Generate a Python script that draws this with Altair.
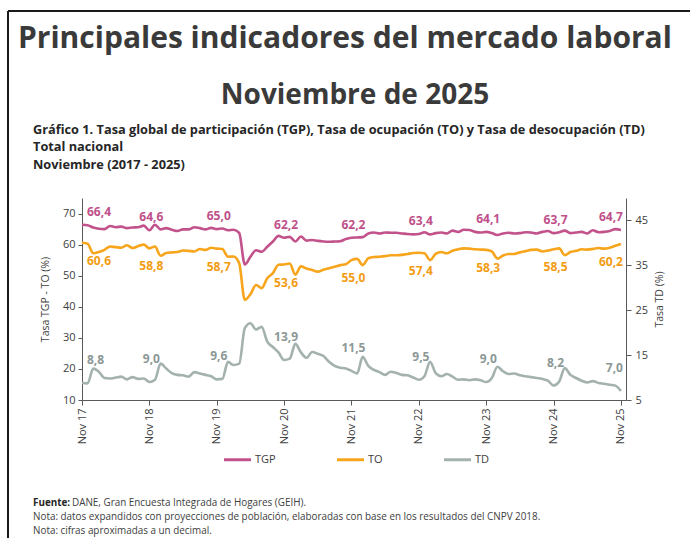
import altair as alt
import pandas as pd

# ---------------- data ----------------
tick_labels = ["Nov 17", "Nov 18", "Nov 19", "Nov 20", "Nov 21",
               "Nov 22", "Nov 23", "Nov 24", "Nov 25"]

tgp = [66.4, 66.2, 65.5, 65.1, 65.0, 66.0, 65.6, 65.8, 65.3, 65.5, 65.6, 66.1,
       64.6, 66.4, 64.9, 65.3, 64.8, 64.4, 64.9, 64.9, 65.6, 65.3, 64.9, 65.4,
       65.0, 65.2, 64.6, 64.8, 63.8, 53.6, 56.1, 58.2, 57.7, 59.3, 61.0, 62.8,
       62.2, 62.5, 61.0, 62.6, 61.3, 61.5, 61.2, 61.0, 60.9, 61.0, 61.1, 61.8,
       62.2, 62.3, 62.4, 63.6, 63.9, 63.6, 63.9, 63.8, 63.8, 63.6, 63.4, 63.3,
       63.4, 64.0, 63.3, 63.7, 63.9, 63.6, 64.5, 64.1, 64.8, 64.7, 64.1, 63.9,
       64.1, 63.7, 63.1, 63.6, 63.8, 63.6, 63.7, 64.0, 63.9, 63.6, 64.1, 64.4,
       63.7, 64.0, 64.5, 63.7, 63.9, 64.1, 63.6, 64.6, 64.0, 64.1, 64.4, 65.0,
       64.7]

to = [60.6, 60.3, 57.2, 57.6, 58.3, 59.4, 59.2, 59.0, 59.8, 58.9, 59.5, 60.0,
      58.8, 59.4, 56.4, 57.3, 57.5, 57.6, 58.1, 58.0, 57.8, 58.6, 58.3, 59.0,
      58.7, 58.6, 56.1, 56.2, 54.0, 42.2, 44.0, 47.0, 46.0, 49.2, 50.8, 53.5,
      53.6, 53.9, 50.3, 53.0, 52.3, 51.8, 51.3, 51.9, 52.4, 52.9, 53.4, 53.7,
      55.0, 55.4, 53.4, 55.6, 56.0, 56.1, 56.3, 56.6, 56.6, 56.7, 57.0, 57.3,
      57.4, 57.2, 55.0, 57.0, 57.6, 57.2, 58.0, 58.5, 58.8, 58.7, 58.5, 58.4,
      58.3, 57.8, 55.5, 56.5, 57.0, 57.0, 57.5, 57.9, 58.3, 58.4, 57.8, 58.1,
      58.5, 58.8, 56.6, 57.6, 58.0, 58.5, 58.4, 58.6, 58.9, 58.7, 59.0, 59.6,
      60.2]

td = [8.8, 8.7, 12.0, 11.3, 9.9, 9.8, 10.0, 10.2, 9.6, 10.1, 9.7, 9.8,
      9.0, 9.5, 13.1, 12.0, 11.0, 10.6, 10.5, 10.2, 11.2, 10.9, 10.6, 10.3,
      9.6, 9.7, 13.5, 12.8, 13.1, 21.0, 22.1, 20.7, 21.3, 18.0, 16.8, 15.6,
      13.9, 14.2, 17.5, 15.6, 14.4, 15.7, 15.3, 14.8, 13.5, 12.6, 12.2, 12.0,
      11.5, 10.9, 14.6, 12.6, 11.7, 11.2, 10.6, 11.3, 11.0, 10.6, 10.5, 10.0,
      9.5, 10.3, 13.5, 11.0, 10.3, 10.8, 10.2, 9.5, 9.6, 9.4, 9.6, 9.4,
      9.0, 9.9, 12.4, 11.4, 10.8, 10.9, 10.5, 10.3, 10.1, 9.9, 9.7, 9.3,
      8.2, 9.1, 12.1, 10.6, 9.9, 9.3, 8.9, 9.2, 8.8, 8.6, 8.4, 8.2,
      7.0]

series_names = ["TGP", "TO", "TD"]
series_colors = ["#C2528B", "#F7A51C", "#A4B2AF"]
label_colors = ["#C0508A", "#F39C12", "#8C9896"]

left_ticks = [10, 20, 30, 40, 50, 60, 70]
right_ticks = [5, 15, 25, 35, 45]

title1 = "Principales indicadores del mercado laboral"
title2 = "Noviembre de 2025"
sub_lines = ["Gráfico 1. Tasa global de participación (TGP), Tasa de ocupación (TO) y Tasa de desocupación (TD)",
             "Total nacional",
             "Noviembre (2017 - 2025)"]
foot_bold = "Fuente:"
foot_lines = ["DANE, Gran Encuesta Integrada de Hogares (GEIH).",
              "Nota: datos expandidos con proyecciones de población, elaboradas con base en los resultados del CNPV 2018.",
              "Nota: cifras aproximadas a un decimal."]

# ---------------- frames ----------------
n = len(tgp)
wide = pd.DataFrame({"i": list(range(n)), "TGP": tgp, "TO": to, "TD": td})
long = wide.melt(id_vars="i", var_name="serie", value_name="valor")

lab = wide[wide["i"] % 12 == 0].copy()
for s in series_names:
    lab[s + "_txt"] = lab[s].map(lambda v: f"{v:.1f}".replace(".", ","))
last_i = n - 1

FONT = "Open Sans"
AX = "#595959"
TXT = "#404040"

expr_labels = "[" + ",".join("'" + t + "'" for t in tick_labels) + "][round(datum.value / 12)]"
xscale = alt.Scale(domain=[0, 96.9], nice=False, zero=False)
x_axis = alt.Axis(values=list(range(0, n, 12)), labelExpr=expr_labels, labelAngle=270,
                  title=None, grid=False, domainColor=AX, tickColor=AX, tickSize=5,
                  labelFont=FONT, labelFontSize=11, labelColor=TXT, labelPadding=3)
lscale = alt.Scale(domain=[10, 75], nice=False, zero=False)
rscale = alt.Scale(domain=[5, 50], nice=False, zero=False)
left_axis = alt.Axis(values=left_ticks, title="Tasa TGP - TO (%)", grid=False,
                     domainColor=AX, tickColor=AX, tickSize=4, labelPadding=3,
                     labelFont=FONT, labelFontSize=11, labelColor=TXT,
                     titleFont=FONT, titleFontSize=10.5, titleFontWeight="normal",
                     titleColor=TXT, titlePadding=12)
right_axis = alt.Axis(orient="right", values=right_ticks, title="Tasa TD (%)", grid=False,
                      domainColor=AX, tickColor=AX, tickSize=5, labelPadding=4,
                      labelFont=FONT, labelFontSize=11, labelColor=TXT,
                      titleFont=FONT, titleFontSize=10.5, titleFontWeight="normal",
                      titleColor=TXT, titleAngle=270, titlePadding=17)

color = alt.Color("serie:N", scale=alt.Scale(domain=series_names, range=series_colors),
                  legend=alt.Legend(orient="none", legendX=140, legendY=246, direction="horizontal",
                                    title=None, symbolType="stroke", symbolSize=730,
                                    symbolStrokeWidth=3, labelFont=FONT, labelFontSize=11,
                                    labelColor=TXT, columnPadding=54, labelOffset=2, padding=0))

lines_left = alt.Chart(long).transform_filter(
    "datum.serie == 'TGP' || datum.serie == 'TO'"
).mark_line(strokeWidth=2.6, interpolate="monotone").encode(
    x=alt.X("i:Q", scale=xscale, axis=x_axis),
    y=alt.Y("valor:Q", scale=lscale, axis=left_axis),
    color=color,
    detail="serie:N",
)

lines_right = alt.Chart(long).transform_filter(
    "datum.serie == 'TD'"
).mark_line(strokeWidth=2.6, interpolate="monotone").encode(
    x=alt.X("i:Q", scale=xscale, axis=x_axis),
    y=alt.Y("valor:Q", scale=rscale, axis=right_axis),
    color=color,
)


def value_labels(serie, col, dy, scale, yaxis):
    out = []
    parts = [
        ("datum.i == 0", "left", 5),
        (f"datum.i > 0 && datum.i < {last_i}", "center", 2),
        (f"datum.i == {last_i}", "right", 2),
    ]
    for cond, align, dx in parts:
        out.append(
            alt.Chart(lab).transform_filter(cond).mark_text(
                font=FONT, fontSize=12, fontWeight="bold", color=col,
                align=align, baseline="middle", dx=dx, dy=dy,
            ).encode(
                x=alt.X("i:Q", scale=xscale, axis=x_axis),
                y=alt.Y(f"{serie}:Q", scale=scale, axis=yaxis),
                text=alt.Text(f"{serie}_txt:N"),
            )
        )
    return out


left_layer = alt.layer(lines_left,
                       *value_labels("TGP", label_colors[0], -13, lscale, left_axis),
                       *value_labels("TO", label_colors[1], 18, lscale, left_axis))
right_layer = alt.layer(lines_right,
                        *value_labels("TD", label_colors[2], -23, rscale, right_axis))

one = pd.DataFrame({"k": [0]})


def txt(text, x, y, size, weight="normal", align="left", col="#333333", baseline="middle"):
    return alt.Chart(one).mark_text(
        text=text, font=FONT, fontSize=size, fontWeight=weight, align=align,
        baseline=baseline, color=col,
    ).encode(x=alt.value(x), y=alt.value(y))


# plot area origin at page (82, 198)
OX, OY = 82, 198
decor = [
    txt(title1, 18 - OX, 48 - OY, 30, "bold", "left", "#3A3A3A", "alphabetic"),
    txt(title2, 355 - OX, 104 - OY, 28, "bold", "center", "#3A3A3A", "alphabetic"),
    txt(sub_lines[0], 33 - OX, 130 - OY, 12.75, "bold", col="#262626"),
    txt(sub_lines[1], 33 - OX, 147 - OY, 12.75, "bold", col="#262626"),
    txt(sub_lines[2], 33 - OX, 165 - OY, 12.75, "bold", col="#262626"),
    txt(foot_bold, 33 - OX, 503 - OY, 9.9, "bold", col="#262626"),
    txt(foot_lines[0], 72 - OX, 503 - OY, 9.9, col=TXT),
    txt(foot_lines[1], 33 - OX, 517 - OY, 9.9, col=TXT),
    txt(foot_lines[2], 33 - OX, 531 - OY, 9.9, col=TXT),
]

border = [
    alt.Chart(one).mark_rule(color="#1a1a1a", strokeWidth=2).encode(
        x=alt.value(8 - OX), y=alt.value(11 - OY), y2=alt.value(560 - OY)),
    alt.Chart(one).mark_rule(color="#1a1a1a", strokeWidth=2).encode(
        x=alt.value(8 - OX), x2=alt.value(720 - OX), y=alt.value(11 - OY)),
]

chart = alt.layer(left_layer, right_layer, *decor, *border).resolve_scale(
    y="independent"
).properties(
    width=544, height=202,
    padding={"left": OX, "top": OY, "right": 690 - 626, "bottom": 538 - 400},
    autosize=alt.AutoSizeParams(type="none"),
    background="white",
).configure_view(stroke=None)

chart.save("out.html", embed_options={"renderer": "svg", "actions": False})
